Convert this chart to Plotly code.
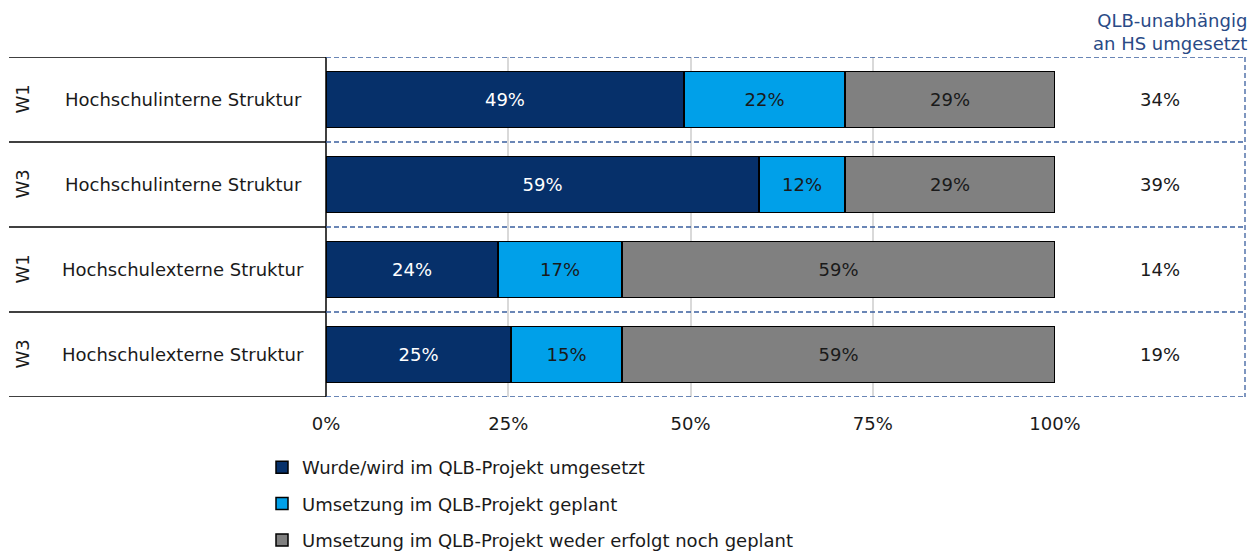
import plotly.graph_objects as go

# Zeilen (von oben nach unten)
wellen = ["W1", "W3", "W1", "W3"]
strukturen = ["Hochschulinterne Struktur", "Hochschulinterne Struktur",
              "Hochschulexterne Struktur", "Hochschulexterne Struktur"]
zeilen = [0, 1, 2, 3]

umgesetzt = [49.1, 59.4, 23.6, 25.4]
geplant = [22.1, 11.8, 17.0, 15.2]
weder = [28.8, 28.8, 59.4, 59.4]
unabhaengig = ["34%", "39%", "14%", "19%"]

serien = [
    ("Wurde/wird im QLB-Projekt umgesetzt", umgesetzt, "#06306a", "white"),
    ("Umsetzung im QLB-Projekt geplant", geplant, "#00a0e9", "#1a1a1a"),
    ("Umsetzung im QLB-Projekt weder erfolgt noch geplant", weder, "#808080", "#1a1a1a"),
]

W, H = 1252, 554


def px(x):
    return x / W


X0, X1, XR = px(326), px(1055), px(1245)
FONT = "DejaVu Sans"
FS = 18
DASH = dict(color="#3a5f9e", width=1.3, dash="5px,3px")

fig = go.Figure()
for i, (name, vals, col, tcol) in enumerate(serien):
    fig.add_trace(go.Bar(
        y=zeilen, x=vals, name=name, orientation="h",
        marker=dict(color=col, line=dict(color="black", width=1.5)),
        width=0.66,
        texttemplate="%{x:.0f}%", textposition="inside",
        insidetextanchor="middle",
        textfont=dict(color=tcol, size=FS, family=FONT),
        legendgroup=str(i), hoverinfo="skip",
    ))

shapes = []
# linke Tabelle
for b in [-0.5, 0.5, 1.5, 2.5, 3.5]:
    shapes.append(dict(type="line", xref="paper", yref="y", x0=px(9), x1=X0,
                       y0=b, y1=b, line=dict(color="black", width=1.5)))
shapes.append(dict(type="line", xref="paper", yref="y", x0=X0, x1=X0,
                   y0=-0.5, y1=3.5, line=dict(color="black", width=1.5)))
# gestrichelter Rahmen
for b in [-0.5, 0.5, 1.5, 2.5, 3.5]:
    shapes.append(dict(type="line", xref="paper", yref="y", x0=X0, x1=XR,
                       y0=b, y1=b, line=DASH))
shapes.append(dict(type="line", xref="paper", yref="y", x0=XR, x1=XR,
                   y0=-0.5, y1=3.5, line=DASH))

txt = dict(size=FS, family=FONT, color="#1a1a1a")
annotations = []
for z, w, s, u in zip(zeilen, wellen, strukturen, unabhaengig):
    annotations.append(dict(xref="paper", yref="y", x=px(22), y=z, text=w,
                            xanchor="center", showarrow=False, textangle=-90, font=txt))
    annotations.append(dict(xref="paper", yref="y", x=px(183), y=z, text=s,
                            xanchor="center", showarrow=False, font=txt))
    annotations.append(dict(xref="paper", yref="y", x=px(1160), y=z, text=u,
                            xanchor="center", showarrow=False, font=txt))
annotations.append(dict(xref="paper", yref="paper", x=px(1249), y=1,
                        xanchor="right", yanchor="bottom", yshift=1, align="right",
                        text="QLB-unabhängig<br>an HS umgesetzt", showarrow=False,
                        font=dict(size=FS, family=FONT, color="#2a4a86")))

fig.update_layout(
    width=W, height=H,
    barmode="stack",
    margin=dict(l=0, r=0, t=57, b=H - 397, autoexpand=False),
    plot_bgcolor="white", paper_bgcolor="white",
    font=dict(family=FONT, size=FS, color="#1a1a1a"),
    xaxis=dict(domain=[X0, X1], range=[0, 100], tickvals=[0, 25, 50, 75, 100],
               ticktext=["0%", "25%", "50%", "75%", "100%"],
               showgrid=True, gridcolor="#d9d9d9", gridwidth=1.5,
               zeroline=False, showline=False, ticks="", ticklabelstandoff=14),
    yaxis=dict(range=[3.5, -0.5], showticklabels=False, showgrid=False,
               zeroline=False, showline=False),
    showlegend=True,
    legend=dict(x=px(262), y=-0.153, xanchor="left", yanchor="top",
                orientation="v", tracegroupgap=10,
                font=dict(size=FS, family=FONT, color="#1a1a1a"),
                itemwidth=30),
    shapes=shapes,
    annotations=annotations,
)

# Seitenrand entfernen, damit die Grafik genau ins Fenster passt
fig.write_html("out.html", config={"displayModeBar": False},
               post_script="document.body.style.margin='0';")
